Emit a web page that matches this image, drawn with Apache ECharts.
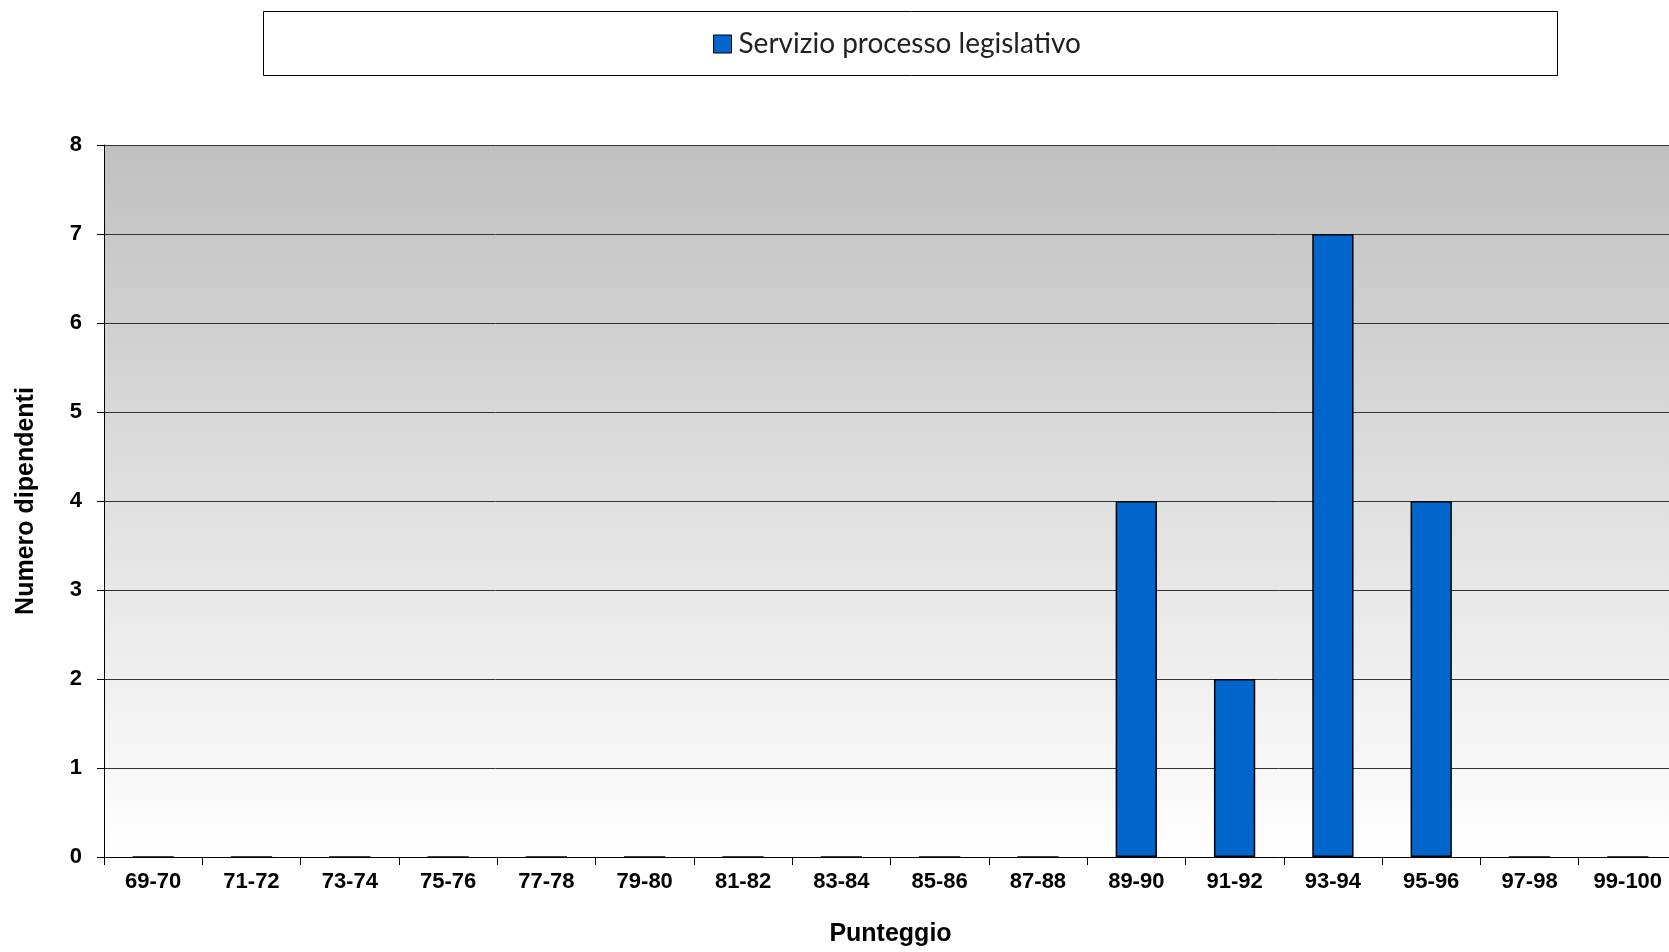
<!DOCTYPE html>
<html><head><meta charset="utf-8">
<script src="https://cdn.jsdelivr.net/npm/echarts@6/dist/echarts.min.js"></script>
<style>html,body{margin:0;padding:0;background:#fff}#c{width:1669px;height:952px}</style>
</head><body><div id="c"></div>
<script>
const categories = ['69-70','71-72','73-74','75-76','77-78','79-80','81-82','83-84','85-86','87-88','89-90','91-92','93-94','95-96','97-98','99-100'];
const seriesName = 'Servizio processo legislativo';
const values = [0,0,0,0,0,0,0,0,0,0,4,2,7,4,0,0];
const yTicks = [0,1,2,3,4,5,6,7,8];

const chart = echarts.init(document.getElementById('c'));
chart.setOption({
  animation: false,
  graphic: [{
    type: 'rect', left: 263, top: 11, z: 0,
    shape: { width: 1294, height: 64 },
    style: { fill: '#fff', stroke: '#000', lineWidth: 1 }
  }],
  legend: {
    top: 25, left: 708, z: 10,
    itemWidth: 18, itemHeight: 18, itemGap: 6,
    icon: 'rect',
    itemStyle: { borderColor: '#000', borderWidth: 1 },
    textStyle: { fontFamily: 'Lato', fontSize: 28, color: '#222', padding: [0, 0, 0, 2] },
    data: [seriesName]
  },
  grid: {
    left: 104, top: 145, width: 1573, height: 712,
    outerBoundsMode: 'none', containLabel: false,
    show: true, borderWidth: 0,
    backgroundColor: {
      type: 'linear', x: 0, y: 0, x2: 0, y2: 1,
      colorStops: [{ offset: 0, color: '#c0c0c0' }, { offset: 1, color: '#ffffff' }]
    }
  },
  xAxis: {
    type: 'category', data: categories,
    name: 'Punteggio', nameLocation: 'middle', nameGap: 65,
    nameTextStyle: { fontFamily: 'Liberation Sans', fontWeight: 'bold', fontSize: 25, color: '#000' },
    axisLine: { lineStyle: { color: '#000', width: 1 } },
    axisTick: { show: true, length: 8, lineStyle: { color: '#000' } },
    axisLabel: { margin: 14, fontFamily: 'Liberation Sans', fontWeight: 'bold', fontSize: 22, color: '#000', interval: 0 }
  },
  yAxis: {
    type: 'value', min: 0, max: 8, interval: 1,
    name: 'Numero dipendenti', nameLocation: 'middle', nameGap: 65, nameRotate: 90,
    nameTextStyle: { fontFamily: 'Liberation Sans', fontWeight: 'bold', fontSize: 25, color: '#000' },
    axisLine: { show: true, lineStyle: { color: '#000', width: 1 } },
    axisTick: { show: true, length: 7, lineStyle: { color: '#000' } },
    axisLabel: { margin: 22, fontFamily: 'Liberation Sans', fontWeight: 'bold', fontSize: 22, color: '#000',
      formatter: v => yTicks.includes(v) ? String(v) : '' },
    splitLine: { show: true, lineStyle: { color: '#333', width: 1 } }
  },
  series: [{
    name: seriesName, type: 'bar', data: values,
    barWidth: '42%',
    itemStyle: { color: '#0066cc', borderColor: '#000', borderWidth: 1.5 }
  }]
});
</script></body></html>
